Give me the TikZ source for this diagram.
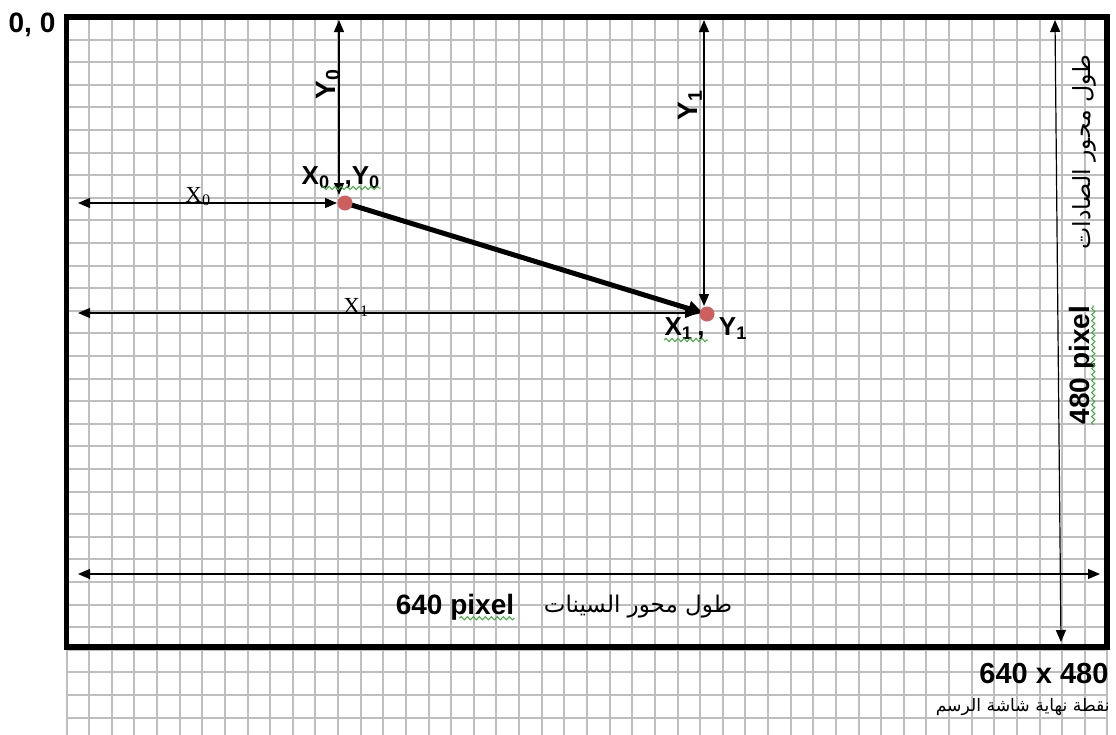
\documentclass[tikz,border=0pt]{standalone}
\usepackage{fontspec}
\setmainfont{Liberation Sans}
\newfontfamily\serifx{Liberation Serif}
\newfontfamily\arabicfont[Script=Arabic]{DejaVu Sans}
\TeXXeTstate=1
\usetikzlibrary{arrows.meta, decorations.pathmorphing}
\definecolor{gridc}{RGB}{190,190,190}
\definecolor{dotc}{RGB}{205,95,95}
\definecolor{sqc}{RGB}{60,170,60}
\tikzset{
  gridln/.style={draw=gridc, line width=1pt},
  frm/.style={line width=2.6pt, line join=miter},
  dim/.style={{Triangle[length=6pt,width=5pt]}-{Triangle[length=6pt,width=5pt]},
              line width=0.6pt},
  seg/.style={-{Triangle[length=7.5pt,width=7.5pt]}, line width=2.5pt},
  dotn/.style={circle, fill=dotc, minimum size=7.5pt, inner sep=0pt},
  lbl/.style={font=\bfseries\fontsize{#1}{#1}\selectfont, inner sep=0pt},
  lbl/.default=13,
  tms/.style={font=\serifx\fontsize{11.5}{11.5}\selectfont, inner sep=0pt},
  arb/.style={font=\arabicfont\fontsize{#1}{#1}\selectfont, inner sep=0pt},
  sq/.style={draw=sqc, line width=0.5pt, decorate,
             decoration={snake, segment length=3pt, amplitude=0.8pt}},
}
\begin{document}
\begin{tikzpicture}[x=0.5pt, y=-0.5pt]
  \useasboundingbox (0,0) rectangle (1116,735);
  % grid paper
  \foreach \i in {0,...,46} {
    \pgfmathsetmacro\gx{66.5+\i*22.63}
    \draw[gridln] (\gx,17) -- (\gx,735);
  }
  \foreach \j in {0,...,31} {
    \pgfmathsetmacro\gy{17+\j*22.6}
    \draw[gridln] (66.5,\gy) -- (1107,\gy);
  }
  % screen frame
  \coordinate (tl) at (66.5,17);
  \coordinate (br) at (1107,647);
  \draw[frm] (tl) rectangle (br);

  % end points of the line and the dimension ends
  \coordinate (p0) at (345,203);
  \coordinate (p1) at (707,314);
  \coordinate (p1t) at (703,313);
  \coordinate (y0t) at (339,20);  \coordinate (y0b) at (339,195);
  \coordinate (x0l) at (78,203);  \coordinate (x0r) at (337,203);
  \coordinate (y1t) at (704,20);  \coordinate (y1b) at (704,306);
  \coordinate (x1l) at (78,313);  \coordinate (x1r) at (697,313);
  \coordinate (ht) at (1055,20);  \coordinate (hb) at (1061,642);
  \coordinate (wl) at (78,574);   \coordinate (wr) at (1100,574);

  \draw[dim] (y0t) -- (y0b);
  \draw[dim] (x0l) -- (x0r);
  \draw[dim] (y1t) -- (y1b);
  \draw[dim] (x1l) -- (x1r);
  \draw[dim] (ht) -- (hb);
  \draw[dim] (wl) -- (wr);
  \draw[seg] (p0) -- (p1t);
  \node[dotn] (d0) at (p0) {};
  \node[dotn] (d1) at (p1) {};

  % labels
  \node[lbl=14] (org) at (32,25) {0, 0};
  \node[lbl=14, rotate=90] (ly0) at (328,84) {Y\textsubscript{0}};
  \node[lbl=14, rotate=90] (ly1) at (690,105) {Y\textsubscript{1}};
  \node[tms, anchor=base west] (lx0) at (185,202) {X\textsubscript{0}};
  \node[tms, anchor=base west] (lx1) at (343,313) {X\textsubscript{1}};
  \node[lbl, anchor=base] (xy0) at (341,184) {X\textsubscript{0}\ \ ,Y\textsubscript{0}};
  \node[lbl, anchor=base] (xy1) at (706,335)
    {X\textsubscript{1}\thinspace, \ Y\textsubscript{1}};
  \node[lbl=14, rotate=90] (px480) at (1082,365) {480 pixel};
  \node[arb=11.8, rotate=90] (ay) at (1084,152) {\beginR طول محور الصادات\endR};
  \node[lbl=14] (px640) at (455,607) {640 pixel};
  \node[arb=11.5] (ax) at (638,607) {\beginR طول محور السينات\endR};
  \node[lbl=14.5] (res) at (1044,674) {640 x 480};
  \node[arb=8.6, anchor=east] (aend) at (1110,707) {\beginR نقطة نهاية شاشة الرسم\endR};

  % spelling marks
  \draw[sq] ([xshift=10pt,yshift=-2pt]xy0.base west) -- ([yshift=-2pt]xy0.base east);
  \draw[sq] ([yshift=-2.5pt]xy1.base west) -- ([xshift=-20pt,yshift=-2.5pt]xy1.base east);
  \draw[sq] ([yshift=-2pt,xshift=32pt]px640.base west) -- ([yshift=-2pt]px640.base east);
  \draw[sq] ([xshift=2pt]px480.base west) -- ([xshift=2pt]px480.base east);
\end{tikzpicture}
\end{document}
